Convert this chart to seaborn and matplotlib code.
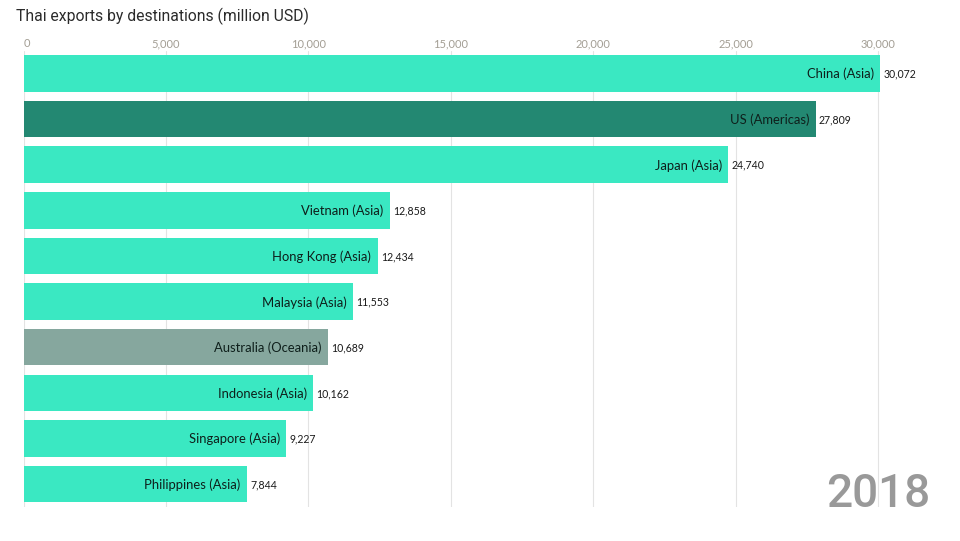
import matplotlib.pyplot as plt
import seaborn as sns
import pandas as pd

destinations = ['China (Asia)', 'US (Americas)', 'Japan (Asia)', 'Vietnam (Asia)', 'Hong Kong (Asia)',
                'Malaysia (Asia)', 'Australia (Oceania)', 'Indonesia (Asia)', 'Singapore (Asia)', 'Philippines (Asia)']
exports = [30072, 27809, 24740, 12858, 12434, 11553, 10689, 10162, 9227, 7844]
bar_colors = ['#3AE8C2', '#238872', '#3AE8C2', '#3AE8C2', '#3AE8C2',
              '#3AE8C2', '#86A79E', '#3AE8C2', '#3AE8C2', '#3AE8C2']
x_ticks = [0, 5000, 10000, 15000, 20000, 25000, 30000]

sns.set_theme(style='white')
plt.rcParams['font.family'] = ['Lato', 'DejaVu Sans']

df = pd.DataFrame({'dest': destinations, 'value': exports})

fig = plt.figure(figsize=(9.6, 5.41), dpi=100)
# axes box placed to match the pixel positions of the reference
ax = fig.add_axes([23.5 / 960, 1 - 507 / 541, (940 - 23.5) / 960, 456.5 / 541])

sns.barplot(data=df, y='dest', x='value', hue='dest', palette=bar_colors, dodge=False,
            legend=False, width=0.8, saturation=1, linewidth=0, ax=ax, zorder=2)

ax.set_xlim(0, (940 - 23.5) / 0.02848)
ax.set_xticks(x_ticks)
ax.set_xticklabels([f'{t:,}' for t in x_ticks])
ax.xaxis.tick_top()
ax.tick_params(axis='x', length=0, pad=1, labelsize=8, labelcolor='#A39E94')
ax.get_xticklabels()[0].set_horizontalalignment('left')
ax.tick_params(axis='y', left=False, labelleft=False)
ax.set_xlabel('')
ax.set_ylabel('')
ax.grid(axis='x', color='#E3E3E3', linewidth=0.8, zorder=0)
ax.set_axisbelow(True)
sns.despine(ax=ax, left=True, right=True, top=True, bottom=True)

# one container per hue level, each with a single bar
for name, value, bars in zip(destinations, exports, ax.containers):
    inner = ax.bar_label(bars, labels=[name], label_type='edge', padding=-4.5, fontsize=9.4, color='#0E1F1B')
    inner[0].set_horizontalalignment('right')
    inner[0].set_y(-0.5)
    outer = ax.bar_label(bars, labels=[f'{value:,}'], label_type='edge', padding=2.5, fontsize=7.6, color='#1A1A1A')
    outer[0].set_y(-0.5)

fig.text(16 / 960, 1 - 16 / 541, 'Thai exports by destinations (million USD)', fontsize=11.35,
         family=['Roboto', 'DejaVu Sans'], color='#2B2B2B', ha='left', va='center')
fig.text(930 / 960, 1 - 507 / 541, '2018', fontsize=33, color='#999999', ha='right', va='baseline',
         family=['Roboto', 'DejaVu Sans'], fontweight='medium')

fig.savefig('out.png', dpi=100, facecolor='white')
